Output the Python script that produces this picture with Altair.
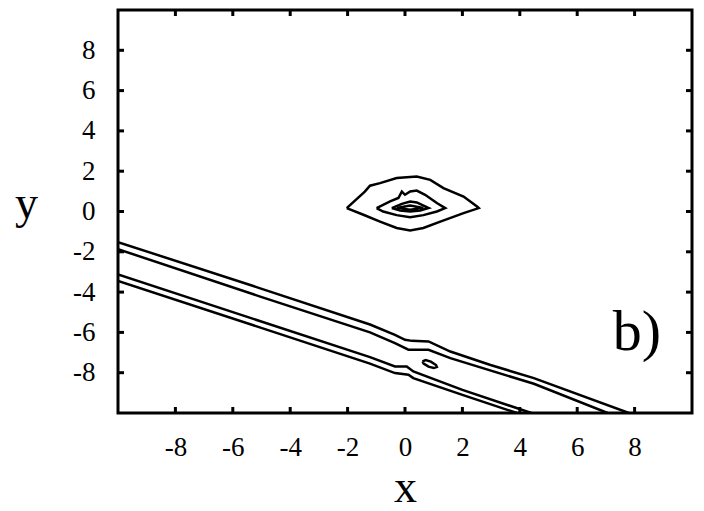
import altair as alt
import pandas as pd

TICKS = [-8, -6, -4, -2, 0, 2, 4, 6, 8]

# Open contour lines (two bands crossing the lower half)
A1_X = [-10, -5.07, -1.22, -0.35, 0.00, 0.24, 0.82, 1.58, 2.98, 4.49, 7.80]
A1_Y = [-1.52, -3.80, -5.61, -6.12, -6.37, -6.42, -6.45, -6.95, -7.62, -8.27, -10]
A2_X = [-10, -5.07, -1.22, -0.35, 0.12, 0.82, 1.58, 4.49, 7.06]
A2_Y = [-1.87, -4.21, -6.00, -6.53, -6.86, -6.86, -7.28, -8.55, -10]
B1_X = [-10, -1.22, -0.35, 0.06, 0.29, 2.00, 4.40]
B1_Y = [-3.12, -7.23, -7.69, -7.69, -7.94, -8.85, -10]
B2_X = [-10, -1.22, -0.35, 0.12, 0.29, 2.00, 3.90]
B2_Y = [-3.44, -7.55, -8.02, -8.10, -8.27, -9.10, -10]

# Closed contours around the origin
O_X = [-2.03, -1.45, -0.87, -0.29, 0.18, 0.64, 1.23, 2.04, 2.57, 2.51, 2.04, 1.34, 0.88, 0.41, -0.29, -0.87, -1.22, -1.40, -2.03]
O_Y = [0.17, -0.16, -0.50, -0.82, -0.94, -0.82, -0.50, -0.08, 0.17, 0.25, 0.74, 1.16, 1.57, 1.74, 1.66, 1.41, 1.28, 0.99, 0.17]
M_X = [-0.99, -0.52, -0.23, -0.11, 0.00, 0.18, 0.41, 0.70, 1.11, 1.40, 1.11, 0.64, 0.18, -0.29, -0.76, -0.99]
M_Y = [0.17, 0.50, 0.67, 0.99, 0.83, 0.99, 1.04, 0.83, 0.42, 0.17, 0.00, -0.18, -0.28, -0.18, 0.00, 0.17]
I_X = [-0.46, -0.11, 0.18, 0.41, 0.70, 0.82, 0.53, 0.18, -0.17, -0.46]
I_Y = [0.17, 0.38, 0.50, 0.45, 0.25, 0.17, 0.05, 0.00, 0.05, 0.17]
N_X = [-0.29, 0.18, 0.64, 0.18, -0.29]
N_Y = [0.18, 0.30, 0.18, 0.09, 0.18]
S_X = [0.61, 0.72, 0.90, 1.08, 1.11, 1.00, 0.82, 0.65, 0.61]
S_Y = [-7.44, -7.37, -7.45, -7.62, -7.72, -7.77, -7.70, -7.55, -7.44]

LABEL_X = [7.24]
LABEL_Y = [-6.86]
LABEL_T = ["b)"]

contours = {
    "A1": (A1_X, A1_Y), "A2": (A2_X, A2_Y), "B1": (B1_X, B1_Y), "B2": (B2_X, B2_Y),
    "O": (O_X, O_Y), "M": (M_X, M_Y), "I": (I_X, I_Y), "N": (N_X, N_Y), "S": (S_X, S_Y),
}
rows = []
for cid, (xs, ys) in contours.items():
    for k, (xv, yv) in enumerate(zip(xs, ys)):
        rows.append({"id": cid, "ord": k, "x": xv, "y": yv})
df = pd.DataFrame(rows)

tick_rows = []
for v in TICKS:
    tick_rows.append({"side": "h", "v": v, "e": -10})
    tick_rows.append({"side": "h", "v": v, "e": 10})
    tick_rows.append({"side": "v", "v": v, "e": -10})
    tick_rows.append({"side": "v", "v": v, "e": 10})
tick_df = pd.DataFrame(tick_rows)

label_df = pd.DataFrame({"x": LABEL_X, "y": LABEL_Y, "t": LABEL_T})

FONT = "Liberation Serif"
sx = alt.Scale(domain=[-10, 10], nice=False, zero=False)
sy = alt.Scale(domain=[-10, 10], nice=False, zero=False)

common = dict(
    values=TICKS, ticks=False, tickSize=0, domain=False, grid=False,
    labelFont=FONT, labelFontSize=27, labelColor="black",
    labelOverlap=False, labelFlush=False, labelExpr="'' + datum.value",
    titleFont=FONT, titleFontSize=46, titleFontWeight="normal", titleColor="black",
)
xaxis = alt.Axis(
    labelPadding=42, labelBaseline="alphabetic",
    title="x", titleY=88, titleBaseline="alphabetic", **common,
)
yaxis = alt.Axis(
    labelPadding=23, labelBaseline="middle",
    title="y", titleAngle=0, titleX=-92, titleY=207,
    titleAlign="center", titleBaseline="alphabetic", **common,
)

lines = alt.Chart(df).mark_line(color="black", strokeWidth=2.5, clip=True).encode(
    x=alt.X("x:Q", scale=sx, axis=xaxis),
    y=alt.Y("y:Q", scale=sy, axis=yaxis),
    detail="id:N",
    order="ord:Q",
)

hticks = alt.Chart(tick_df).transform_filter("datum.side == 'h'").mark_tick(
    orient="vertical", size=12, thickness=3, color="black", clip=True, opacity=1
).encode(
    x=alt.X("v:Q", scale=sx, axis=xaxis),
    y=alt.Y("e:Q", scale=sy, axis=yaxis),
)
vticks = alt.Chart(tick_df).transform_filter("datum.side == 'v'").mark_tick(
    orient="horizontal", size=12, thickness=3, color="black", clip=True, opacity=1
).encode(
    x=alt.X("e:Q", scale=sx, axis=xaxis),
    y=alt.Y("v:Q", scale=sy, axis=yaxis),
)

label = alt.Chart(label_df).mark_text(
    align="left", baseline="alphabetic", font=FONT, fontSize=58, color="black"
).encode(
    x=alt.X("x:Q", scale=sx, axis=xaxis),
    y=alt.Y("y:Q", scale=sy, axis=yaxis),
    text="t:N",
)

chart = alt.layer(lines, hticks, vticks, label).properties(
    width=574,
    height=403,
    padding={"left": 110, "top": 2, "right": 4, "bottom": 99},
    autosize=alt.AutoSizeParams(type="none"),
).configure_view(
    stroke="black", strokeWidth=3
).configure_axis(
    labelFont=FONT, labelFontSize=27, labelColor="black",
)

chart.save("out.html", embed_options={"renderer": "svg", "actions": False})
